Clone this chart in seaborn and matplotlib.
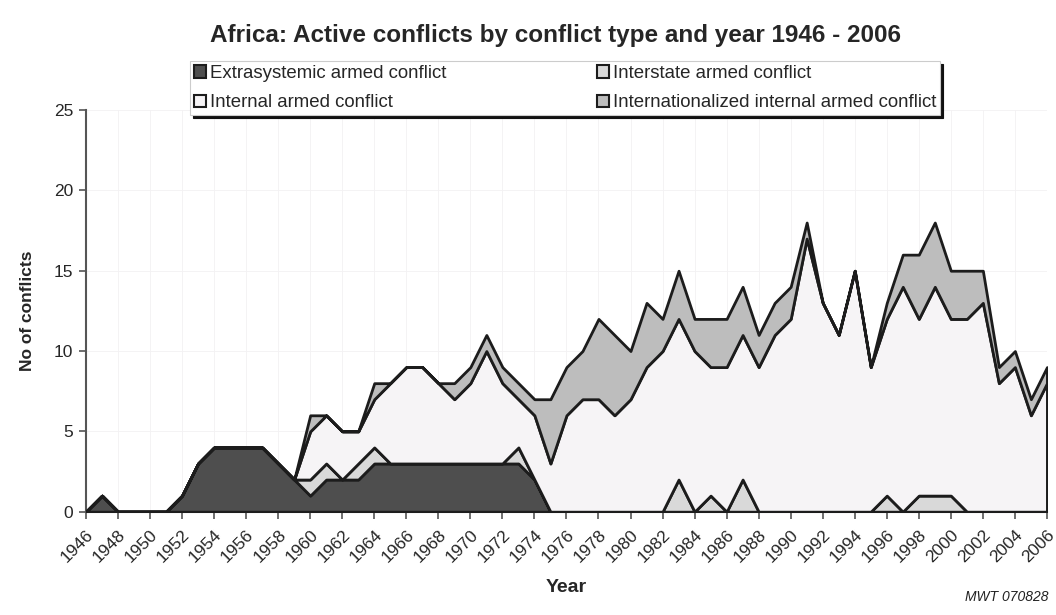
import matplotlib
matplotlib.use("Agg")
import matplotlib.pyplot as plt
from matplotlib.patches import Patch
import pandas as pd
import seaborn as sns

# Africa, active conflicts per year by type
years = list(range(1946, 2007))

extrasystemic = [0, 1, 0, 0, 0, 0, 1, 3, 4, 4,     # 1946-1955
                 4, 4, 3, 2, 1, 2, 2, 2, 3, 3,     # 1956-1965
                 3, 3, 3, 3, 3, 3, 3, 3, 2, 0,     # 1966-1975
                 0, 0, 0, 0, 0, 0, 0, 0, 0, 0,     # 1976-1985
                 0, 0, 0, 0, 0, 0, 0, 0, 0, 0,     # 1986-1995
                 0, 0, 0, 0, 0, 0, 0, 0, 0, 0,     # 1996-2005
                 0]                                # 2006
interstate = [0, 0, 0, 0, 0, 0, 0, 0, 0, 0,
              0, 0, 0, 0, 1, 1, 0, 1, 1, 0,
              0, 0, 0, 0, 0, 0, 0, 1, 0, 0,
              0, 0, 0, 0, 0, 0, 0, 2, 0, 1,
              0, 2, 0, 0, 0, 0, 0, 0, 0, 0,
              1, 0, 1, 1, 1, 0, 0, 0, 0, 0,
              0]
internal = [0, 0, 0, 0, 0, 0, 0, 0, 0, 0,
            0, 0, 0, 0, 3, 3, 3, 2, 3, 5,
            6, 6, 5, 4, 5, 7, 5, 3, 4, 3,
            6, 7, 7, 6, 7, 9, 10, 10, 10, 8,
            9, 9, 9, 11, 12, 17, 13, 11, 15, 9,
            11, 14, 11, 13, 11, 12, 13, 8, 9, 6,
            8]
internationalized = [0, 0, 0, 0, 0, 0, 0, 0, 0, 0,
                     0, 0, 0, 0, 1, 0, 0, 0, 1, 0,
                     0, 0, 0, 1, 1, 1, 1, 1, 1, 4,
                     3, 3, 5, 5, 3, 4, 2, 3, 2, 3,
                     3, 3, 2, 2, 2, 1, 0, 0, 0, 0,
                     1, 2, 4, 4, 3, 3, 2, 1, 1, 1,
                     1]

labels = ["Extrasystemic armed conflict", "Interstate armed conflict",
          "Internal armed conflict", "Internationalized internal armed conflict"]
colors = ["#4e4e4e", "#d9d9d9", "#f6f4f6", "#bdbdbd"]

df = pd.DataFrame({"year": years, labels[0]: extrasystemic, labels[1]: interstate,
                   labels[2]: internal, labels[3]: internationalized})

sns.set_style("white")
plt.rcParams["font.family"] = ["Liberation Sans", "DejaVu Sans"]

fig = plt.figure(figsize=(10.56, 6.15), dpi=100)
ax = fig.add_axes([0.0814, 0.168, 0.910, 0.653])

ax.stackplot(df["year"], [df[l] for l in labels], colors=colors,
             edgecolor="#1c1c1c", linewidth=2.0, zorder=3)

ax.set_xlim(1946, 2006)
ax.set_ylim(0, 25)
ax.set_yticks(range(0, 26, 5))
ax.set_xticks(range(1946, 2007, 2))
ax.set_xticklabels([str(y) for y in range(1946, 2007, 2)], rotation=45,
                   ha="right", rotation_mode="anchor", fontsize=12.5)
ax.tick_params(axis="y", labelsize=12.5, length=5, width=1.2, color="#555555",
               direction="out", left=True, pad=4)
ax.tick_params(axis="x", length=5, width=1.2, color="#555555",
               direction="out", bottom=True, pad=6)
ax.grid(True, color="#f3f1f3", linewidth=0.6, zorder=0)

sns.despine(ax=ax, top=True, right=True)
for side in ["left", "bottom"]:
    ax.spines[side].set_color("#555555")
    ax.spines[side].set_linewidth(1.5)

ax.set_xlabel("Year", fontsize=14, fontweight="bold", labelpad=10)
ax.set_ylabel("No of conflicts", fontsize=12.5, fontweight="bold", labelpad=14)

fig.suptitle("Africa: Active conflicts by conflict type and year 1946 - 2006",
             x=0.5256, y=0.943, va="center", fontsize=17.5, fontweight="bold")

handles = [Patch(facecolor=c, edgecolor="#1c1c1c", linewidth=1.5) for c in colors]
order = [0, 2, 1, 3]
leg = fig.legend([handles[i] for i in order], [labels[i] for i in order],
                 ncol=2, mode="expand", loc="lower left",
                 bbox_to_anchor=(190 / 1056, 1 - 115 / 615, 750 / 1056, 57 / 615),
                 fontsize=13.4, frameon=True, fancybox=False,
                 shadow={"color": "#111111", "alpha": 1.0},
                 handlelength=0.65, handleheight=0.65, handletextpad=0.2,
                 borderpad=0.2, labelspacing=0.65, borderaxespad=0)
leg.get_frame().set_edgecolor("#cccccc")
leg.get_frame().set_linewidth(0.8)

fig.text(0.993, 0.018, "MWT 070828", ha="right", va="bottom",
         fontsize=10, style="italic", color="#222222")

fig.savefig("out.png", dpi=100)
